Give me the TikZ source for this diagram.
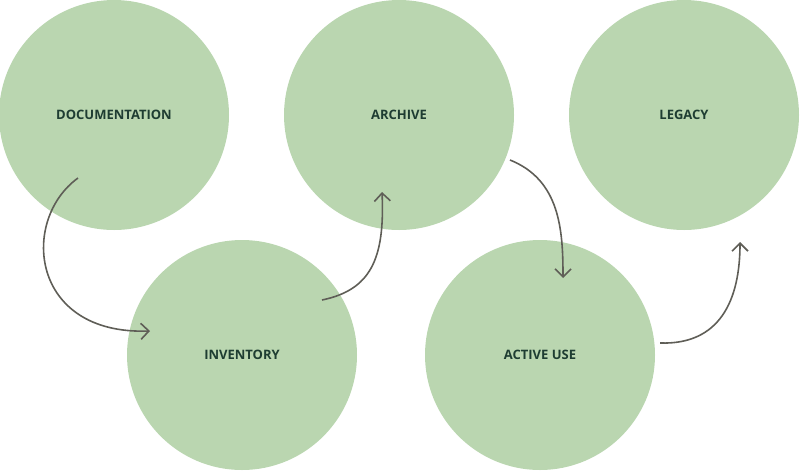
\documentclass[tikz,border=0pt]{standalone}
\usepackage{fontspec}
\setmainfont{Open Sans}
\usetikzlibrary{arrows.meta}
\definecolor{circ}{HTML}{BAD6B0}
\definecolor{txt}{HTML}{1E3D32}
\definecolor{arr}{HTML}{5F5E57}
\begin{document}
\begin{tikzpicture}[x=1pt,y=-1pt,
  stage/.style={circle,fill=circ,minimum size=230pt,inner sep=0pt,font=\bfseries\fontsize{13}{15}\selectfont,text=txt},
  flow/.style={draw=arr,line width=1.6pt,-{Straight Barb[length=8pt,width=16pt,line width=1.6pt]}}]
\useasboundingbox (0,0) rectangle (800,472);
\node[stage] (doc) at (114,115) {DOCUMENTATION};
\node[stage] (arc) at (399,115) {ARCHIVE};
\node[stage] (leg) at (684,115) {LEGACY};
\node[stage] (inv) at (242,355) {INVENTORY};
\node[stage] (act) at (540,355) {ACTIVE USE};
\coordinate (a1s) at (78,178); \coordinate (a1e) at (150,331);
\coordinate (a2s) at (322,300); \coordinate (a2e) at (382,192);
\coordinate (a3s) at (510,160); \coordinate (a3e) at (563,278);
\coordinate (a4s) at (660,343); \coordinate (a4e) at (740,242);
\draw[flow] (a1s) .. controls (20,220) and (30,335) .. (a1e);
\draw[flow] (a2s) .. controls (370,290) and (385,260) .. (a2e);
\draw[flow] (a3s) .. controls (560,180) and (563,230) .. (a3e);
\draw[flow] (a4s) .. controls (720,345) and (740,300) .. (a4e);
\end{tikzpicture}
\end{document}
